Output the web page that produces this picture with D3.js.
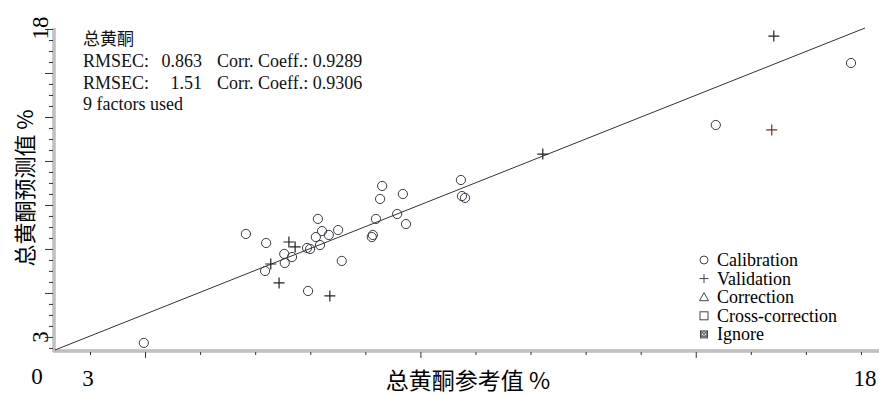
<!DOCTYPE html>
<html>
<head>
<meta charset="utf-8">
<script src="https://cdn.jsdelivr.net/npm/d3@7"></script>
<style>
  body { margin: 0; background: #fff; }
  svg { display: block; }
</style>
</head>
<body>
<svg id="chart" width="879" height="395"></svg>
<script>
// ---- data: reference value (x) vs predicted value (y), % ----
const calibration = [
  [4.08, 2.71], [6.05, 8.00], [6.44, 7.56], [6.79, 7.03], [6.80, 6.59],
  [6.94, 6.88], [6.42, 6.20], [7.25, 5.23], [7.23, 7.32], [7.29, 7.27],
  [7.44, 8.73], [7.40, 7.85], [7.52, 8.14], [7.48, 7.46], [7.65, 7.95],
  [7.83, 8.19], [7.90, 6.69], [8.48, 7.85], [8.50, 7.95], [8.56, 8.73],
  [8.64, 9.70], [8.68, 10.33], [8.97, 8.97], [9.08, 9.94], [9.14, 8.48],
  [10.20, 10.62], [10.22, 9.84], [10.28, 9.75], [15.12, 13.29], [17.73, 16.30]
];
const validation = [
  [6.88, 7.61], [7.00, 7.37], [6.53, 6.54], [6.69, 5.62], [7.67, 4.99],
  [11.78, 11.88], [16.24, 17.61]
];
const validationFlagged = [[16.20, 13.05]];

const domainMin = 2.365, domainMax = 18.0;
const xEndLabels = [{ v: 3, t: "3" }, { v: 18, t: "18" }];
const yEndLabels = [{ v: 3, t: "3" }, { v: 18, t: "18" }];
const originLabel = "0";

const xTitle = "总黄酮参考值 %";
const yTitle = "总黄酮预测值 %";
const componentName = "总黄酮";
const rmsecValues = ["0.863", "1.51"];
const corrValues = ["0.9289", "0.9306"];
const factorsText = "9 factors used";
const legendItems = ["Calibration", "Validation", "Correction", "Cross-correction", "Ignore"];

// tick grid of the instrument plot (start, step, count, major every n)
const xTickStart = 3.04, xTickStep = 1.063, xTickCount = 15, xMajorOffset = 1;
const yTickStart = 2.466, yTickStep = 0.534, yTickCount = 30, yMajorOffset = 1;

// ---- drawing ----
const svg = d3.select("#chart");
const serif = "'Liberation Serif', 'Times New Roman', serif";
const cjk = "'Noto Sans CJK SC', sans-serif";

const x = d3.scaleLinear().domain([domainMin, domainMax]).range([55, 865]);
const y = d3.scaleLinear().domain([domainMin, domainMax]).range([350, 28]);

const axisY = 351, axisX = 54;

// axes as double grey rules
function rule(x1, y1, x2, y2) {
  svg.append("line").attr("x1", x1).attr("y1", y1).attr("x2", x2).attr("y2", y2)
    .attr("stroke", "#9a9a9a").attr("stroke-width", 3);
  svg.append("line").attr("x1", x1).attr("y1", y1).attr("x2", x2).attr("y2", y2)
    .attr("stroke", "#e6e6e6").attr("stroke-width", 1);
}
rule(axisX, 28, axisX, axisY + 1);
rule(axisX - 1, axisY, 879, axisY);

const xTicks = d3.range(xTickCount).map(i => xTickStart + i * xTickStep);
const yTicks = d3.range(yTickCount).map(i => yTickStart + i * yTickStep);
const xMajor = xTicks.filter((d, i) => (i - xMajorOffset) % 5 === 0);
const xMinor = xTicks.filter((d, i) => (i - xMajorOffset) % 5 !== 0);
const yMajor = yTicks.filter((d, i) => (i - yMajorOffset) % 4 === 0);
const yMinor = yTicks.filter((d, i) => (i - yMajorOffset) % 4 !== 0);

function styleAxis(g) {
  g.select(".domain").remove();
  g.selectAll(".tick line").attr("stroke", "#333").attr("stroke-width", 1);
}
svg.append("g").attr("transform", `translate(0,${axisY + 1})`)
  .call(d3.axisBottom(x).tickValues(xMinor).tickSize(3).tickFormat("")).call(styleAxis);
svg.append("g").attr("transform", `translate(0,${axisY + 1})`)
  .call(d3.axisBottom(x).tickValues(xMajor).tickSize(6).tickFormat("")).call(styleAxis);
svg.append("g").attr("transform", `translate(${axisX - 1},0)`)
  .call(d3.axisLeft(y).tickValues(yMinor).tickSize(4).tickFormat("")).call(styleAxis);
svg.append("g").attr("transform", `translate(${axisX - 1},0)`)
  .call(d3.axisLeft(y).tickValues(yMajor).tickSize(8).tickFormat("")).call(styleAxis);

// end labels
svg.selectAll(".xlab").data(xEndLabels).join("text")
  .attr("x", d => x(d.v)).attr("y", 386)
  .attr("text-anchor", "middle").attr("font-family", serif).attr("font-size", 23)
  .text(d => d.t);
svg.selectAll(".ylab").data(yEndLabels).join("text")
  .attr("transform", d => `translate(48,${y(d.v)}) rotate(-90)`)
  .attr("text-anchor", "middle").attr("font-family", serif).attr("font-size", 23)
  .text(d => d.t);
svg.append("text").attr("x", 37).attr("y", 384).attr("text-anchor", "middle")
  .attr("font-family", serif).attr("font-size", 23).text(originLabel);

// axis titles
svg.append("text").attr("x", 468).attr("y", 389).attr("text-anchor", "middle")
  .attr("font-family", cjk).attr("font-size", 23).text(xTitle);
svg.append("text").attr("transform", "translate(33,188) rotate(-90)")
  .attr("text-anchor", "middle").attr("font-family", cjk).attr("font-size", 22).text(yTitle);

// identity line
svg.append("line")
  .attr("x1", x(domainMin)).attr("y1", y(domainMin))
  .attr("x2", x(domainMax)).attr("y2", y(domainMax))
  .attr("stroke", "#333").attr("stroke-width", 1);

// calibration samples
svg.append("g").selectAll("circle").data(calibration).join("circle")
  .attr("cx", d => x(d[0])).attr("cy", d => y(d[1])).attr("r", 4.6)
  .attr("fill", "none").attr("stroke", "#3a3a48").attr("stroke-width", 1);

// validation samples
function crossPath(s) { return `M${-s},0H${s}M0,${-s}V${s}`; }
svg.append("g").selectAll("path").data(validation).join("path")
  .attr("transform", d => `translate(${x(d[0])},${y(d[1])})`)
  .attr("d", crossPath(5.5)).attr("fill", "none").attr("stroke", "#222").attr("stroke-width", 1.2);
svg.append("g").selectAll("path").data(validationFlagged).join("path")
  .attr("transform", d => `translate(${x(d[0])},${y(d[1])})`)
  .attr("d", crossPath(5.5)).attr("fill", "none").attr("stroke", "#7a2a2a").attr("stroke-width", 1.2);

// statistics block
const stats = svg.append("g").attr("font-family", serif).attr("font-size", 18).attr("fill", "#111");
stats.append("text").attr("x", 83).attr("y", 45).attr("font-family", cjk).attr("font-size", 17).text(componentName);
rmsecValues.forEach((v, i) => {
  const by = 67 + i * 22;
  stats.append("text").attr("x", 83).attr("y", by).text("RMSEC:");
  stats.append("text").attr("x", 202).attr("y", by).attr("text-anchor", "end").text(v);
  stats.append("text").attr("x", 217).attr("y", by).text("Corr. Coeff.: " + corrValues[i]);
});
stats.append("text").attr("x", 83).attr("y", 110).text(factorsText);

// legend
const lg = svg.append("g").attr("font-family", serif).attr("font-size", 18);
const lx = 704;
legendItems.forEach((name, i) => {
  const cy = 260 + i * 18.6;
  const g = lg.append("g").attr("transform", `translate(${lx},${cy})`);
  g.attr("stroke", "#444").attr("fill", "none").attr("stroke-width", 1);
  if (i === 0) g.append("circle").attr("r", 4);
  if (i === 1) g.append("path").attr("d", crossPath(4.5));
  if (i === 2) g.append("path").attr("d", "M0,-4.5L4.5,3.5H-4.5Z");
  if (i === 3) g.append("rect").attr("x", -4).attr("y", -4).attr("width", 8).attr("height", 8);
  if (i === 4) {
    g.append("rect").attr("x", -3.5).attr("y", -3.5).attr("width", 7).attr("height", 7);
    g.append("circle").attr("r", 2.6);
    g.append("path").attr("d", "M-3.5,-3.5L3.5,3.5M3.5,-3.5L-3.5,3.5");
  }
  lg.append("text").attr("x", lx + 13).attr("y", cy + 6).attr("fill", "#000").text(name);
});
</script>
</body>
</html>
